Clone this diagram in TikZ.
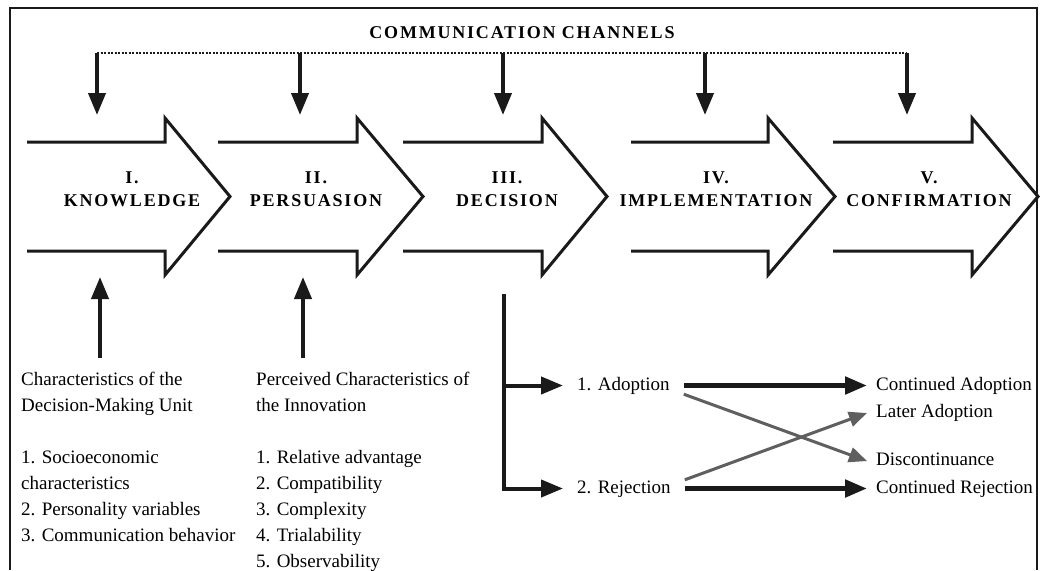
\documentclass[tikz,border=0pt]{standalone}
\usepackage{fontspec}
\setmainfont{Liberation Serif}
\newfontfamily\stagefont[LetterSpace=10]{Liberation Serif}
\usetikzlibrary{arrows.meta}
\definecolor{inkblack}{RGB}{26,26,26}
\definecolor{crossgray}{RGB}{95,95,95}
\tikzset{
  stagearrow/.style={inkblack,line width=3pt,line join=miter},
  stagename/.style={font=\stagefont\bfseries\fontsize{18}{23}\selectfont,align=center,inner sep=0pt},
  bodytext/.style={font=\fontsize{19}{26}\selectfont,align=left,inner sep=0pt,anchor=north west},
  outcome/.style={font=\fontsize{19}{26}\selectfont,anchor=west,text height=13pt,text depth=4pt,inner ysep=0pt},
  flow/.style={inkblack,line width=4pt,line join=miter,-{Triangle[length=22pt,width=17pt]}},
  cross/.style={crossgray,line width=3pt,-{Triangle[length=18pt,width=15pt]}},
}
\begin{document}
\begin{tikzpicture}[x=1pt,y=-1pt]
  \fill[white] (0,0) rectangle (1040,570);
  \useasboundingbox (0,0) rectangle (1040,570);
  \draw[inkblack,line width=2pt] (10,570) -- (10,8) -- (1037,8) -- (1037,570);
  \node[stagename] (channels) at (522,33) {COMMUNICATION CHANNELS};
  \draw[inkblack,line width=1.3pt,dash pattern=on 2pt off 1.5pt] (97,53) -- (907,53);
  \foreach \x [count=\i] in {97,300,503,705,907}{
    \coordinate (c\i) at (\x,53);
    \coordinate (s\i) at (\x,115);
    \draw[flow] (c\i) -- (s\i);
  }
  \foreach \a/\h/\t/\lx/\num/\name [count=\i] in {27/165/230/132/I./KNOWLEDGE,218/357/423/316/II./PERSUASION,403/542/607/507/III./DECISION,631/768/835/716/IV./IMPLEMENTATION,833/972/1038/929/V./CONFIRMATION}{
    \draw[stagearrow] (\a,142) -- (\h,142) -- (\h,118) -- (\t,196.5) -- (\h,275) -- (\h,251) -- (\a,251);
    \node[stagename] (stage\i) at (\lx,189) {\num\\\name};
  }
  \node[bodytext] (unit) at (21,372) {Characteristics of the\\Decision-Making Unit\\[26pt]1. Socioeconomic\\characteristics\\2. Personality variables\\3. Communication behavior};
  \node[bodytext] (innov) at (256,372) {Perceived Characteristics of\\the Innovation\\[26pt]1. Relative advantage\\2. Compatibility\\3. Complexity\\4. Trialability\\5. Observability};
  \coordinate (u1) at (100,358);
  \coordinate (k1) at (100,277);
  \coordinate (u2) at (303,358);
  \coordinate (k2) at (303,277);
  \draw[flow] (u1) -- (k1);
  \draw[flow] (u2) -- (k2);
  \coordinate (dec) at (504,294);
  \node[outcome,inner xsep=14pt] (adopt) at (563,385.5) {1. Adoption};
  \node[outcome,inner xsep=14pt] (reject) at (563,488.5) {2. Rejection};
  \node[outcome,inner xsep=9pt] (contadopt) at (867,385.5) {Continued Adoption};
  \node[outcome,inner xsep=9pt] (later) at (867,413) {Later Adoption};
  \node[outcome,inner xsep=9pt] (discont) at (867,461) {Discontinuance};
  \node[outcome,inner xsep=9pt] (contrej) at (867,488.5) {Continued Rejection};
  \draw[flow] (dec) |- (reject.west);
  \draw[flow] (dec |- adopt.west) -- (adopt.west);
  \draw[flow,line width=5pt] (adopt) -- (contadopt);
  \draw[flow,line width=5pt] (reject) -- (contrej);
  \draw[cross] (adopt.south east) -- (discont.west);
  \draw[cross] (reject.north east) -- (later.west);
\end{tikzpicture}
\end{document}
